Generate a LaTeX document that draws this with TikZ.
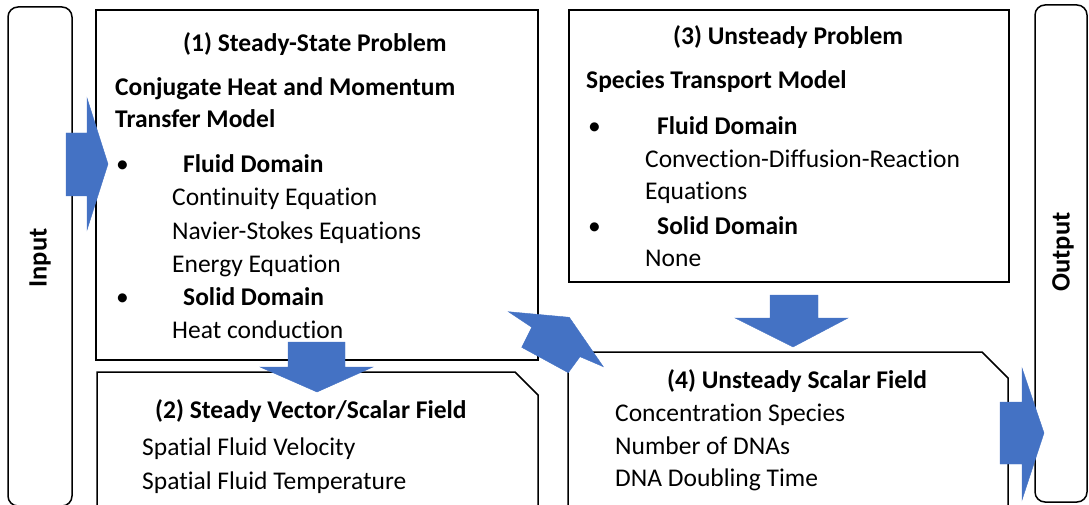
\documentclass[tikz,border=0pt]{standalone}
\usepackage{fontspec}
\setmainfont{Carlito}[Ligatures=NoCommon]
\definecolor{arrowblue}{RGB}{68,114,196}
\tikzset{
  frame/.style={draw=black, line width=1.5pt},
  blockarrow/.style={fill=arrowblue, draw=arrowblue, line width=0.4pt, line join=miter},
  txt/.style={anchor=base west, inner sep=0pt, font=\fontsize{25.5}{30}\selectfont},
  btxt/.style={txt, font=\fontsize{25.5}{30}\selectfont\bfseries},
  side/.style={inner sep=0pt, rotate=90, font=\fontsize{26.5}{30}\selectfont\bfseries},
}
\begin{document}
\begin{tikzpicture}[x=1pt,y=-1pt]
\useasboundingbox (0,0) rectangle (1089,505);
\clip (0,0) rectangle (1089,505);
% side boxes
\draw[frame, rounded corners=10pt] (8,7) rectangle (72,506);
\node[side] (input) at (40,258) {Input};
\draw[frame, rounded corners=10pt] (1035,5) rectangle (1087,502);
\node[side] (output) at (1063,252) {Output};
% box 1
\draw[frame] (96,10) rectangle (538,360);
\node[btxt] (t1) at (183,52) {(1) Steady-State Problem};
\node[btxt] (c1) at (115,96) {Conjugate Heat and Momentum};
\node[btxt] (c2) at (115,128) {Transfer Model};
\node[txt] (b1) at (116,173) {\textbullet};
\node[btxt] (f1) at (183,173) {Fluid Domain};
\node[txt] (e1) at (172,206) {Continuity Equation};
\node[txt] (e2) at (172,240) {Navier-Stokes Equations};
\node[txt] (e3) at (172,272) {Energy Equation};
\node[txt] (b2) at (116,305) {\textbullet};
\node[btxt] (s1) at (183,305) {Solid Domain};
\node[txt] (h1) at (172,338) {Heat conduction};
% box 2
\draw[frame] (97,506) -- (97,372) -- (515,372) -- (538,395) -- (538,506);
\node[btxt] (t2) at (155,418) {(2) Steady Vector/Scalar Field};
\node[txt] (v1) at (142,455) {Spatial Fluid Velocity};
\node[txt] (v2) at (142,489) {Spatial Fluid Temperature};
% box 3
\draw[frame] (569,10) rectangle (1009,282);
\node[btxt] (t3) at (673,45) {(3) Unsteady Problem};
\node[btxt] (sp) at (586,89) {Species Transport Model};
\node[txt] (b3) at (588,135) {\textbullet};
\node[btxt] (f3) at (657,135) {Fluid Domain};
\node[txt] (cd) at (645,168) {Convection-Diffusion-Reaction};
\node[txt] (eq) at (645,200) {Equations};
\node[txt] (b4) at (588,234) {\textbullet};
\node[btxt] (s3) at (657,234) {Solid Domain};
\node[txt] (nn) at (645,266) {None};
% box 4
\draw[frame] (568,506) -- (568,352) -- (982,352) -- (1008,378) -- (1008,506);
\node[btxt] (t4) at (667,388) {(4) Unsteady Scalar Field};
\node[txt] (u1) at (615,421) {Concentration Species};
\node[txt] (u2) at (615,454) {Number of DNAs};
\node[txt] (u3) at (615,486) {DNA Doubling Time};
% block arrows
\fill[blockarrow] (66,133) -- (87,133) -- (87,98) -- (108,164) -- (87,230) -- (87,196) -- (66,196) -- cycle;
\fill[blockarrow] (288,342) -- (345,342) -- (345,367) -- (373,367) -- (317,392) -- (260,367) -- (288,367) -- cycle;
\fill[blockarrow] (770,295) -- (818,295) -- (818,318) -- (848,318) -- (793,347) -- (735,318) -- (770,318) -- cycle;
\fill[blockarrow] (508.3,311.7) -- (569.3,317.3) -- (603.3,366.7) -- (580,356.7) -- (568.3,372.7) -- (521.7,347.3) -- (531.7,327.3) -- cycle;
\fill[blockarrow] (1000,402) -- (1022,402) -- (1022,368) -- (1044,433) -- (1022,500) -- (1022,464) -- (1000,464) -- cycle;
\end{tikzpicture}
\end{document}
